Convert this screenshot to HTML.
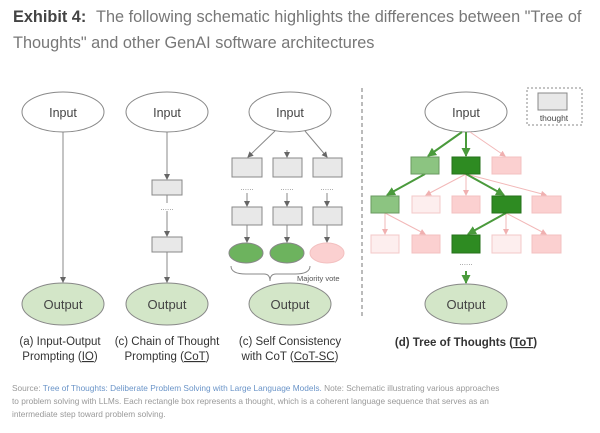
<!DOCTYPE html>
<html><head><meta charset="utf-8"><style>
body{margin:0;background:#fff;width:600px;height:433px;overflow:hidden}
svg{display:block}
text{font-family:"Liberation Sans",sans-serif}
</style></head><body>
<svg width="600" height="433" viewBox="0 0 600 433" xmlns="http://www.w3.org/2000/svg">
<defs>
<marker id="ag" markerWidth="6" markerHeight="6" refX="5" refY="3" orient="auto" markerUnits="userSpaceOnUse"><path d="M0,0 L6,3 L0,6z" fill="#666"/></marker>
<marker id="agr" markerWidth="9" markerHeight="9" refX="8" refY="4.5" orient="auto" markerUnits="userSpaceOnUse"><path d="M0,0 L9,4.5 L0,9z" fill="#4a9a3c"/></marker>
<marker id="apk" markerWidth="6" markerHeight="6" refX="5" refY="3" orient="auto" markerUnits="userSpaceOnUse"><path d="M0,0 L6,3 L0,6z" fill="#f0b0b0"/></marker>
</defs>
<text x="13" y="22" font-size="16.3" fill="#444"><tspan font-weight="bold">Exhibit 4:</tspan><tspan x="96" fill="#777">The following schematic highlights the differences between "Tree of</tspan></text>
<text x="13" y="48" font-size="16.3" fill="#777">Thoughts" and other GenAI software architectures</text>

<g stroke="#888" stroke-width="1" fill="#fff">
<ellipse cx="63" cy="112" rx="41" ry="20"/>
<ellipse cx="167" cy="112" rx="41" ry="20"/>
<ellipse cx="290" cy="112" rx="41" ry="20"/>
<ellipse cx="466" cy="112" rx="41" ry="20"/>
</g>
<g font-size="12.5" fill="#444" text-anchor="middle">
<text x="63" y="117">Input</text><text x="167" y="117">Input</text><text x="290" y="117">Input</text><text x="466" y="117">Input</text>
</g>
<g fill="#d3e6c8" stroke="#888">
<ellipse cx="63" cy="304" rx="41" ry="21"/>
<ellipse cx="167" cy="304" rx="41" ry="21"/>
<ellipse cx="290" cy="304" rx="41" ry="21"/>
<ellipse cx="466" cy="304" rx="41" ry="20"/>
</g>
<g font-size="13" fill="#444" text-anchor="middle">
<text x="63" y="309">Output</text><text x="167" y="309">Output</text><text x="290" y="309">Output</text><text x="466" y="309">Output</text>
</g>
<line x1="63" y1="132" x2="63" y2="282" stroke="#888" marker-end="url(#ag)"/>
<g stroke="#888" fill="none">
<line x1="167" y1="132" x2="167" y2="179" marker-end="url(#ag)"/>
<line x1="167" y1="195" x2="167" y2="203"/>
<line x1="167" y1="211" x2="167" y2="236" marker-end="url(#ag)"/>
<line x1="167" y1="252" x2="167" y2="282" marker-end="url(#ag)"/>
</g>
<g fill="#e8e8e8" stroke="#888">
<rect x="152" y="180" width="30" height="15"/><rect x="152" y="237" width="30" height="15"/>
</g>
<text x="167" y="210" font-size="8" fill="#888" text-anchor="middle">......</text>
<g stroke="#888" fill="none">
<line x1="275" y1="131" x2="248" y2="157" marker-end="url(#ag)"/>
<line x1="287" y1="150" x2="287" y2="157" marker-end="url(#ag)"/>
<line x1="305" y1="131" x2="327" y2="157" marker-end="url(#ag)"/>
<line x1="247" y1="193" x2="247" y2="206" marker-end="url(#ag)"/>
<line x1="287" y1="193" x2="287" y2="206" marker-end="url(#ag)"/>
<line x1="327" y1="193" x2="327" y2="206" marker-end="url(#ag)"/>
<line x1="247" y1="225" x2="247" y2="242" marker-end="url(#ag)"/>
<line x1="287" y1="225" x2="287" y2="242" marker-end="url(#ag)"/>
<line x1="327" y1="225" x2="327" y2="242" marker-end="url(#ag)"/>
<path d="M231,266 Q231,274 246,274 L264,274 Q270,274 270,281 Q270,274 276,274 L295,274 Q310,274 310,266"/>
</g>
<g fill="#e8e8e8" stroke="#888">
<rect x="232" y="158" width="30" height="19"/><rect x="273" y="158" width="29" height="19"/><rect x="313" y="158" width="29" height="19"/>
<rect x="232" y="207" width="30" height="18"/><rect x="273" y="207" width="29" height="18"/><rect x="313" y="207" width="29" height="18"/>
</g>
<g font-size="8" fill="#888" text-anchor="middle"><text x="247" y="190">......</text><text x="287" y="190">......</text><text x="327" y="190">......</text></g>
<ellipse cx="246" cy="253" rx="17" ry="10" fill="#6db35e" stroke="#888"/>
<ellipse cx="287" cy="253" rx="17" ry="10" fill="#6db35e" stroke="#888"/>
<ellipse cx="327" cy="253" rx="17" ry="10" fill="#fbd0d0" stroke="#f3c0c0"/>
<text x="297" y="281" font-size="7.5" fill="#555">Majority vote</text>
<g font-size="11.5" fill="#333" text-anchor="middle">
<text x="60" y="345">(a) Input-Output</text><text x="60" y="360">Prompting (<tspan text-decoration="underline">IO</tspan>)</text>
<text x="167" y="345">(c) Chain of Thought</text><text x="167" y="360">Prompting (<tspan text-decoration="underline">CoT</tspan>)</text>
<text x="290" y="345">(c) Self Consistency</text><text x="290" y="360">with CoT (<tspan text-decoration="underline">CoT-SC</tspan>)</text>
<text x="466" y="346" font-weight="bold">(d) Tree of Thoughts (<tspan text-decoration="underline">ToT</tspan>)</text>
</g>
<line x1="362" y1="88" x2="362" y2="318" stroke="#777" stroke-dasharray="4,3"/>
<rect x="527" y="88" width="55" height="37" fill="none" stroke="#888" stroke-dasharray="2,2"/>
<rect x="538" y="93" width="29" height="17" fill="#e8e8e8" stroke="#888"/>
<text x="554" y="121" font-size="8.5" fill="#444" text-anchor="middle">thought</text>
<g stroke="#f2b8b8" stroke-width="1" fill="none">
<line x1="470" y1="132" x2="505" y2="156" marker-end="url(#apk)"/>
<line x1="466" y1="174" x2="426" y2="195" marker-end="url(#apk)"/>
<line x1="466" y1="174" x2="466" y2="195" marker-end="url(#apk)"/>
<line x1="466" y1="174" x2="546" y2="195" marker-end="url(#apk)"/>
<line x1="385" y1="213" x2="385" y2="234" marker-end="url(#apk)"/>
<line x1="385" y1="213" x2="425" y2="234" marker-end="url(#apk)"/>
<line x1="506" y1="213" x2="506" y2="234" marker-end="url(#apk)"/>
<line x1="506" y1="213" x2="546" y2="234" marker-end="url(#apk)"/>
</g>
<g stroke="#4a9a3c" stroke-width="2" fill="none">
<line x1="462" y1="132" x2="428" y2="156" marker-end="url(#agr)"/>
<line x1="466" y1="132" x2="466" y2="156" marker-end="url(#agr)"/>
<line x1="425" y1="174" x2="387" y2="195" marker-end="url(#agr)"/>
<line x1="466" y1="174" x2="504" y2="195" marker-end="url(#agr)"/>
<line x1="506" y1="213" x2="468" y2="234" marker-end="url(#agr)"/>
<line x1="466" y1="271" x2="466" y2="283" marker-end="url(#agr)"/>
</g>
<text x="466" y="265" font-size="8" fill="#888" text-anchor="middle">......</text>
<g stroke-width="1">
<rect x="411" y="157" width="28" height="17" fill="#8cc481" stroke="#6a9a60"/>
<rect x="452" y="157" width="28" height="17" fill="#2e8b22" stroke="#25701b"/>
<rect x="492" y="157" width="29" height="17" fill="#fbd0d0" stroke="#f3c0c0"/>
<rect x="371" y="196" width="28" height="17" fill="#8cc481" stroke="#6a9a60"/>
<rect x="412" y="196" width="28" height="17" fill="#fdeeee" stroke="#f3c8c8"/>
<rect x="452" y="196" width="28" height="17" fill="#fbd0d0" stroke="#f3c0c0"/>
<rect x="492" y="196" width="29" height="17" fill="#2e8b22" stroke="#25701b"/>
<rect x="532" y="196" width="29" height="17" fill="#fbd0d0" stroke="#f3c0c0"/>
<rect x="371" y="235" width="28" height="18" fill="#fdeeee" stroke="#f3c8c8"/>
<rect x="412" y="235" width="28" height="18" fill="#fbd0d0" stroke="#f3c0c0"/>
<rect x="452" y="235" width="28" height="18" fill="#2e8b22" stroke="#25701b"/>
<rect x="492" y="235" width="29" height="18" fill="#fdeeee" stroke="#f3c8c8"/>
<rect x="532" y="235" width="29" height="18" fill="#fbd0d0" stroke="#f3c0c0"/>
</g>
<g font-size="8.3" fill="#999">
<text x="12" y="391">Source: <tspan fill="#6a94c8">Tree of Thoughts: Deliberate Problem Solving with Large Language Models.</tspan> Note: Schematic illustrating various approaches</text>
<text x="12" y="404">to problem solving with LLMs. Each rectangle box represents a thought, which is a coherent language sequence that serves as an</text>
<text x="12" y="417">intermediate step toward problem solving.</text>
</g>
</svg>
</body></html>
